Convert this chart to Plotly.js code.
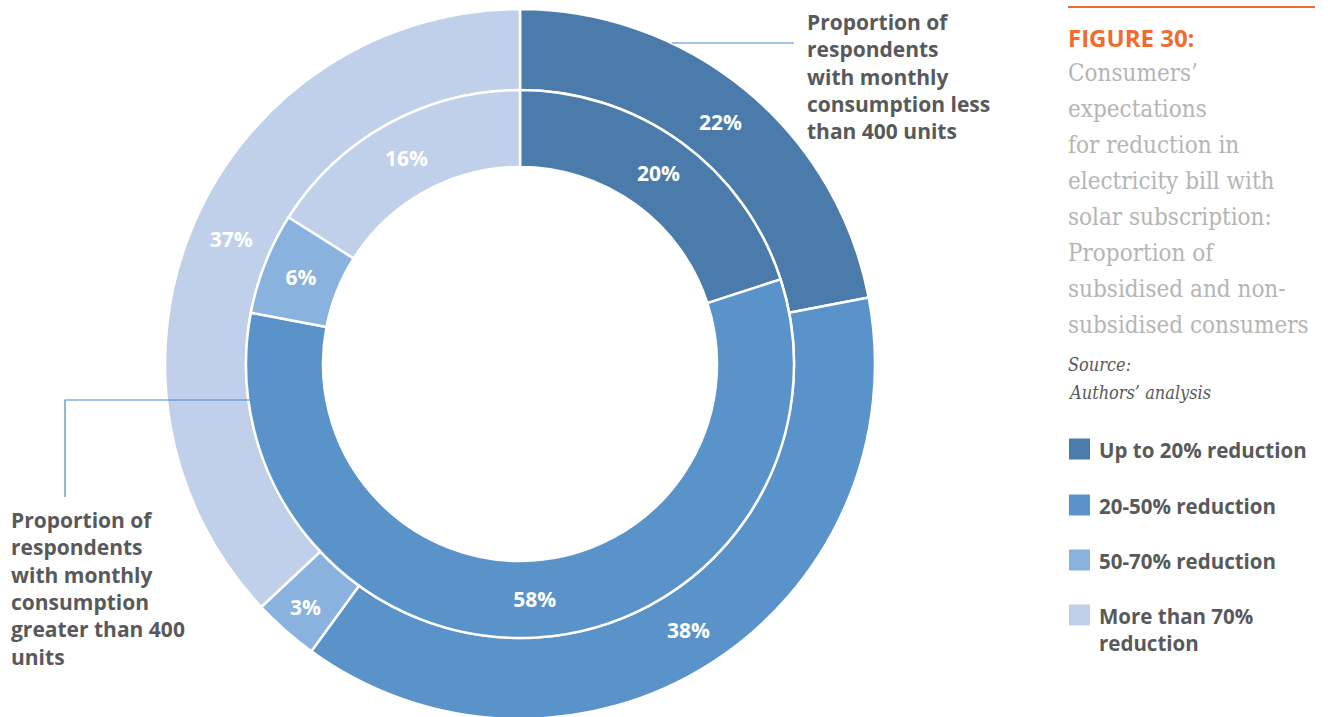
<!DOCTYPE html>
<html>
<head>
<meta charset="utf-8">
<script src="https://cdn.plot.ly/plotly-3.0.1.min.js"></script>
<style>
html,body{margin:0;padding:0;overflow:hidden;background:#fff;}
#chart{width:1328px;height:740px;}
</style>
</head>
<body>
<div id="chart"></div>
<script>
// ---- data ----
const categories = ['Up to 20% reduction', '20-50% reduction', '50-70% reduction', 'More than 70% reduction'];
const legendLabels = ['Up to 20% reduction', '20-50% reduction', '50-70% reduction', 'More than 70%<br>reduction'];
const lessThan400 = [22, 38, 3, 37];     // outer ring
const greaterThan400 = [20, 58, 6, 16];  // inner ring
const sliceColors = ['#4a7baa', '#5a93ca', '#8ab2de', '#c0d0ea'];
const titleText = 'FIGURE 30:';
const subtitleLines = ['Consumers\u2019', 'expectations', 'for reduction in', 'electricity bill with',
  'solar subscription:', 'Proportion of', 'subsidised and non-', 'subsidised consumers'];
const sourceLines = ['Source:', 'Authors\u2019 analysis'];
const outerCalloutLines = ['Proportion of', 'respondents', 'with monthly', 'consumption less', 'than 400 units'];
const innerCalloutLines = ['Proportion of', 'respondents', 'with monthly', 'consumption', 'greater than 400', 'units'];

// ---- layout helpers (pixel -> paper) ----
const W = 1328, H = 740;
const px = x => x / W;
const py = y => 1 - y / H;
const cx = 520, cy = 364, rOuter = 355, rMid = 274, rHole = 197;

const sans = '"Open Sans", Lato, sans-serif';
const serif = '"DejaVu Serif Condensed", "DejaVu Serif", serif';
const grey = '#58595b';

function pieTrace(values, r, hole, name) {
  return {
    type: 'pie',
    name: name,
    labels: categories,
    values: values,
    sort: false,
    direction: 'clockwise',
    rotation: 0,
    hole: hole,
    domain: {x: [px(cx - r), px(cx + r)], y: [py(cy + r), py(cy - r)]},
    marker: {colors: sliceColors, line: {color: '#ffffff', width: 2.5}},
    texttemplate: '%{value}%',
    textposition: 'inside',
    insidetextorientation: 'horizontal',
    textfont: {family: sans, size: 21, color: '#ffffff', weight: 700},
    hoverinfo: 'label+value',
    showlegend: false
  };
}

const traces = [
  pieTrace(lessThan400, rOuter, rMid / rOuter, 'Monthly consumption < 400 units'),
  pieTrace(greaterThan400, rMid, rHole / rMid, 'Monthly consumption > 400 units')
];

const annotations = [];
const shapes = [];

// header line + figure title
shapes.push({type: 'line', xref: 'paper', yref: 'paper', x0: px(1068), x1: px(1315), y0: py(7), y1: py(7),
  line: {color: '#f26a2f', width: 2}});
annotations.push({xref: 'paper', yref: 'paper', x: px(1066), y: py(37), xanchor: 'left', yanchor: 'middle',
  text: titleText, showarrow: false, font: {family: sans, size: 24, color: '#f26a2f', weight: 700}});
subtitleLines.forEach((t, i) => {
  annotations.push({xref: 'paper', yref: 'paper', x: px(1066), y: py(73 + i * 36), xanchor: 'left', yanchor: 'middle',
    text: t, showarrow: false, font: {family: serif, size: 24, color: '#b5b5b5'}});
});
sourceLines.forEach((t, i) => {
  annotations.push({xref: 'paper', yref: 'paper', x: px(1066), y: py(365 + i * 27), xanchor: 'left', yanchor: 'middle',
    text: '<i>' + t + '</i>', showarrow: false, font: {family: serif, size: 18, color: grey}});
});

// legend (manual, large swatches)
const legendY = [449, 505, 560, 615];
legendLabels.forEach((t, i) => {
  shapes.push({type: 'rect', xref: 'paper', yref: 'paper', x0: px(1069), x1: px(1090),
    y0: py(legendY[i] + 10.5), y1: py(legendY[i] - 10.5), fillcolor: sliceColors[i], line: {width: 0}});
  annotations.push({xref: 'paper', yref: 'paper', x: px(1097), y: py(legendY[i] - 15), xanchor: 'left', yanchor: 'top',
    align: 'left', text: t, showarrow: false, font: {family: sans, size: 20.5, color: grey, weight: 700}});
});

// callouts
annotations.push({xref: 'paper', yref: 'paper', x: px(805), y: py(76), xanchor: 'left', yanchor: 'middle',
  align: 'left', text: outerCalloutLines.join('<br>'), showarrow: false,
  font: {family: sans, size: 21, color: grey, weight: 700}});
annotations.push({xref: 'paper', yref: 'paper', x: px(9), y: py(588), xanchor: 'left', yanchor: 'middle',
  align: 'left', text: innerCalloutLines.join('<br>'), showarrow: false,
  font: {family: sans, size: 21, color: grey, weight: 700}});

shapes.push({type: 'line', xref: 'paper', yref: 'paper', x0: px(672), x1: px(794), y0: py(43), y1: py(43),
  line: {color: '#4a86c5', width: 1.2}});
shapes.push({type: 'path', xref: 'paper', yref: 'paper',
  path: 'M' + px(250) + ',' + py(400) + ' L' + px(65) + ',' + py(400) + ' L' + px(65) + ',' + py(497),
  line: {color: '#4a86c5', width: 1.2}});

const layout = {
  width: W, height: H,
  margin: {l: 0, r: 0, t: 0, b: 0},
  paper_bgcolor: '#ffffff',
  showlegend: false,
  uniformtext: {minsize: 21, mode: 'show'},
  annotations: annotations,
  shapes: shapes
};

Plotly.newPlot('chart', traces, layout, {displayModeBar: false, staticPlot: true});
</script>
</body>
</html>
